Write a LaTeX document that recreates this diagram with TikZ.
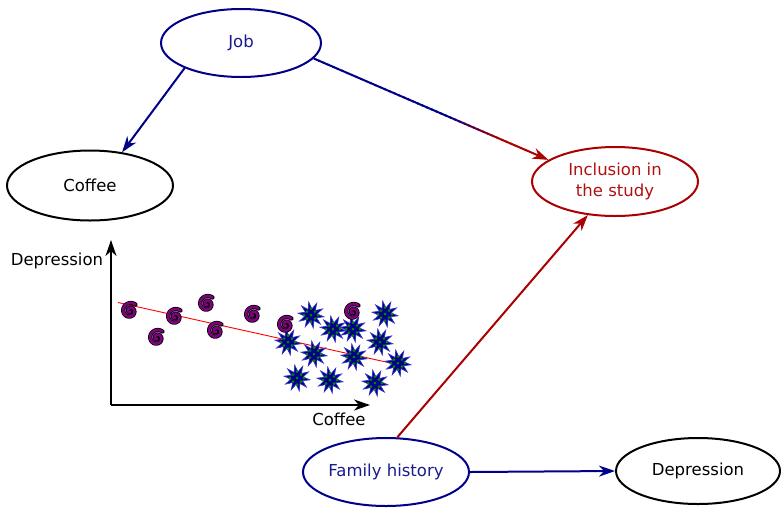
\documentclass[tikz,border=0pt]{standalone}
\usepackage{fontspec}
\setmainfont{DejaVu Sans}
\usetikzlibrary{shapes.geometric,arrows.meta,calc}
\definecolor{navyc}{HTML}{000088}
\definecolor{navytext}{HTML}{1A1A8C}
\definecolor{redc}{HTML}{AA0000}
\definecolor{redtext}{HTML}{B01010}
\definecolor{purplec}{HTML}{800080}
\definecolor{greenc}{HTML}{008A00}
\definecolor{starrim}{HTML}{3030C0}
\begin{document}
\begin{tikzpicture}[x=1pt,y=-1pt,
  every node/.style={font=\fontsize{16.5}{20.5}\selectfont},
  var/.style={ellipse, draw, line width=2pt, inner sep=0pt, align=center},
  tip/.style={-{Stealth[length=16pt,width=11pt,inset=5pt]}},
  link/.style={line width=2pt, tip},
  axis/.style={line width=2pt, black, tip},
  spiralmark/.pic={
    \draw[line width=4.2pt, black, line cap=round]
      plot[domain=0:600, samples=80, smooth] ({(0.5+8*\x/600)*cos(\x+70)}, {(0.5+8*\x/600)*sin(\x+70)});
    \draw[line width=2.6pt, purplec, line cap=round]
      plot[domain=0:600, samples=80, smooth] ({(0.5+8*\x/600)*cos(\x+70)}, {(0.5+8*\x/600)*sin(\x+70)});
  },
  starmark/.pic={
    \filldraw[fill=navyc, draw=starrim, line width=0.7pt, line join=miter]
      plot[domain=0:19, samples=20] ({ifthenelse(mod(\x,2)<0.5,13,6.2)*cos(\x*360/20+8)},
                                     {ifthenelse(mod(\x,2)<0.5,13,6.2)*sin(\x*360/20+8)}) -- cycle;
    \foreach \p in {(0,0),(-4,-3.5),(4,-3.5),(-4,3.5),(4,3.5),(0,-6.5),(0,6.5),(-7,0),(7,0)}
      \fill[greenc] \p circle (1.5pt);
  }]
\useasboundingbox (0,0) rectangle (781,507);

% causal graph nodes
\node[var, navyc, text=navytext, minimum width=160pt, minimum height=68pt] (job) at (241,43) {Job};
\node[var, black, minimum width=166pt, minimum height=70pt] (coffee) at (90,185.5) {Coffee};
\node[var, redc, text=redtext, minimum width=166pt, minimum height=69pt] (incl) at (615,181.5) {Inclusion in\\the study};
\node[var, navyc, text=navytext, minimum width=166pt, minimum height=68pt] (fam) at (386,472) {Family history};
\node[var, black, minimum width=164pt, minimum height=66pt] (dep) at (698,471) {Depression};

% edges
\draw[link, navyc] (job.204) -- (coffee.46);
\draw[link, redc] (fam.72.5) -- (incl.231.4);
\draw[link, navyc] (fam.east) -- (dep.west);

% job -> inclusion, fading from blue to red
\path (job.-12.2) coordinate (ja) (incl.162) coordinate (ib);
\foreach \i in {0,...,44} {
  \pgfmathsetmacro\ta{\i/50}
  \pgfmathsetmacro\tb{(\i+1.3)/50}
  \pgfmathtruncatemacro\m{min(100,max(0,(\ta-0.56)/0.22*100))}
  \draw[line width=2pt, redc!\m!navyc] ($(ja)!\ta!(ib)$) -- ($(ja)!\tb!(ib)$);
}
\draw[link, redc] ($(ja)!0.9!(ib)$) -- (ib);

% scatter plot axes
\coordinate (orig) at (111,405);
\coordinate (ytop) at (111,240);
\coordinate (xend) at (370,405);
\draw[axis] (orig) -- (ytop);
\draw[axis] (orig) -- (xend);
\node (ylab) at (57,261) {Depression};
\node (xlab) at (339,419) {Coffee};

% regression line
\draw[red, line width=0.9pt] (118,302.5) -- (395,364);

% coffee drinkers
\foreach \p in {(311,315),(333,329),(353,329),(385,314),(380,342),(288,342),(314,354),(354,357),(398,363),(297,378),(330,380),(375,383)}
  \pic at \p {starmark};
% non drinkers
\foreach \p in {(130,311),(157,338),(175,317),(207,304),(216,331),(253,315),(286,325),(353,312)}
  \pic at \p {spiralmark};
\end{tikzpicture}
\end{document}
